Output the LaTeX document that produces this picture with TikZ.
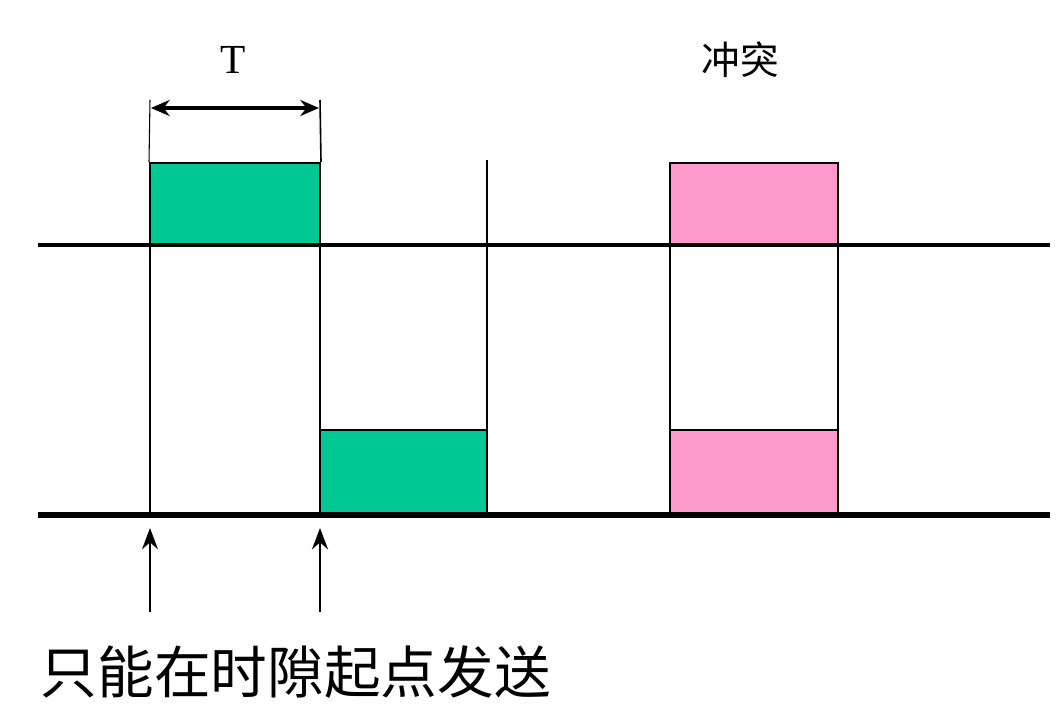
\documentclass[tikz,border=0pt]{standalone}
\usepackage{fontspec}
\setmainfont{Liberation Serif}
\newfontfamily\cjk{Noto Sans CJK SC}
\usetikzlibrary{arrows.meta}
\definecolor{grn}{HTML}{00C893}
\definecolor{pnk}{HTML}{FF99CC}
\begin{document}
\begin{tikzpicture}[x=0.75pt,y=-0.75pt,
  gbox/.style={draw=black,line width=1.5pt,fill=grn},
  pbox/.style={draw=black,line width=1.5pt,fill=pnk},
  thin/.style={line width=0.8pt}]
\useasboundingbox (0,0) rectangle (1060,706);
\fill[white] (0,0) rectangle (1060,706);
\draw[thin] (150,245) -- (150,513);
\draw[line width=1.5pt] (320,245) -- (320,430);
\draw[line width=1.5pt] (487,160) -- (487,430);
\draw[thin] (670,245) -- (670,430);
\draw[thin] (838,245) -- (838,430);
\node[gbox,minimum width=127.5pt,minimum height=61.5pt,inner sep=0pt] (g1) at (235,204) {};
\node[gbox,minimum width=125pt,minimum height=62pt,inner sep=0pt] (g2) at (403.5,471.5) {};
\node[pbox,minimum width=126pt,minimum height=61.5pt,inner sep=0pt] (p1) at (754,204) {};
\node[pbox,minimum width=126pt,minimum height=62pt,inner sep=0pt] (p2) at (754,471.5) {};
\draw[line width=3pt] (38,245) -- (1050,245);
\draw[line width=4pt] (38,515) -- (1050,515);
\coordinate (ta) at (150,100); \coordinate (tb) at (320,100);
\draw[thin] (ta) -- (g1.north west);
\draw[line width=1.2pt] (tb) -- (g1.north east);
\draw[line width=2.5pt,{Stealth[length=14pt,width=12pt]}-{Stealth[length=14pt,width=12pt]}] (151,108) -- (319,108);
\node (T) at (233,60) {\fontsize{31}{31}\selectfont T};
\node (ct) at (740,60) {\cjk\fontsize{29}{30}\selectfont 冲突};
\coordinate (a1) at (150,612); \coordinate (a2) at (320,612);
\draw[line width=1.3pt,-{Stealth[length=16pt,width=12pt]}] (a1) -- (150,528);
\draw[line width=2pt,-{Stealth[length=16pt,width=12pt]}] (a2) -- (320,528);
\node[anchor=west] (txt) at (36,672) {\cjk\fontsize{42.5}{43}\selectfont 只能在时隙起点发送};
\end{tikzpicture}
\end{document}
